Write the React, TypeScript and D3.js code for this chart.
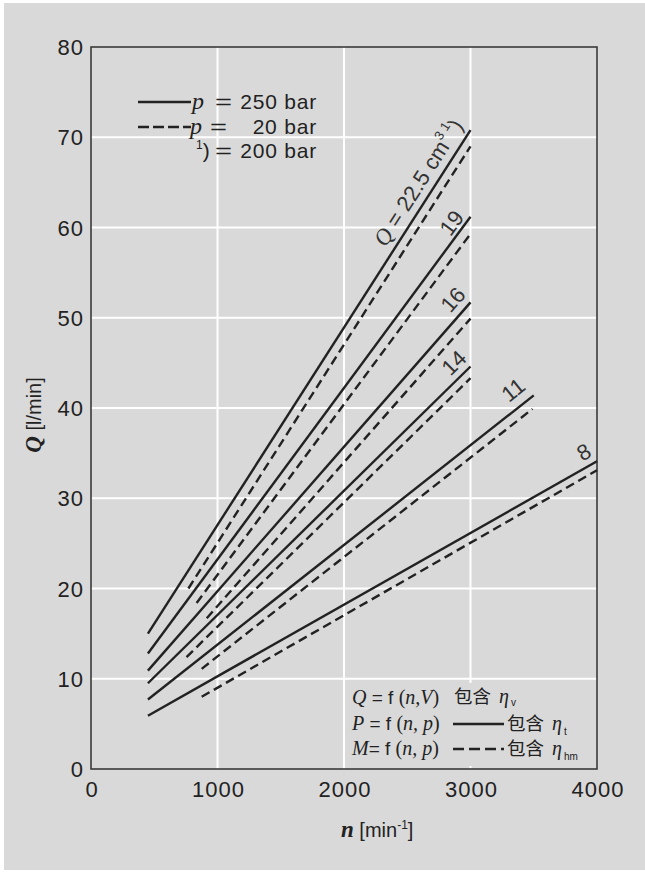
import React from "react";
import * as d3 from "d3";

// ---- data ----
const sizes = ["22.5", "19", "16", "14", "11", "8"];
const solidStartN = [450, 450, 450, 450, 450, 450];
const solidStartQ = [15.0, 12.8, 10.9, 9.5, 7.7, 5.9];
const solidEndN = [3000, 3000, 3000, 3000, 3500, 4000];
const solidEndQ = [70.8, 61.2, 51.7, 44.6, 41.4, 34.1];
const dashStartN = [770, 835, 915, 755, 875, 875];
const dashStartQ = [20.0, 18.4, 16.7, 12.4, 11.1, 8.0];
const dashEndN = [3000, 3000, 3000, 3000, 3490, 4000];
const dashEndQ = [69.0, 59.3, 49.9, 43.3, 39.9, 33.1];
const labelN = [2585, 2851, 2862, 2870, 3338, 3897];
const labelQ = [65.0, 60.5, 52.0, 45.0, 42.0, 35.1];

const xTicks = [0, 1000, 2000, 3000, 4000];
const yTicks = [0, 10, 20, 30, 40, 50, 60, 70, 80];
const xGrid = [1000, 2000, 3000];
const yGrid = [10, 20, 30, 40, 50, 60, 70];

const SANS = "'Liberation Sans', Arial, Helvetica, sans-serif";
const SERIF = "'Liberation Serif', 'DejaVu Serif', serif";
const CJK = "'Noto Sans CJK SC', sans-serif";
const INK = "#222";
const BG = "#d9d9d9";

export default function App() {
  const x = d3.scaleLinear().domain([0, 4000]).range([91, 597]);
  const y = d3.scaleLinear().domain([0, 80]).range([769, 47]);
  const line = d3
    .line<[number, number]>()
    .x((d) => x(d[0]))
    .y((d) => y(d[1]));

  const solid = sizes.map((_, i) => [
    [solidStartN[i], solidStartQ[i]],
    [solidEndN[i], solidEndQ[i]],
  ] as [number, number][]);
  const dashed = sizes.map((_, i) => [
    [dashStartN[i], dashStartQ[i]],
    [dashEndN[i], dashEndQ[i]],
  ] as [number, number][]);

  const angle = (i: number) => {
    const dx = x(solidEndN[i]) - x(solidStartN[i]);
    const dy = y(solidEndQ[i]) - y(solidStartQ[i]);
    return (Math.atan2(dy, dx) * 180) / Math.PI;
  };

  const etaRows: [number, number, number, number, string][] = [
    [454, 499, 703, 3, "v"],
    [507, 552, 730, 5, "t"],
    [507, 552, 755, 5, "hm"],
  ];

  return (
    <svg
      width={645}
      height={872}
      style={{ position: "absolute", left: 0, top: 0 }}
      xmlns="http://www.w3.org/2000/svg"
    >
      <rect x={0} y={0} width={645} height={872} fill="#fff" />
      <rect x={4} y={3} width={641} height={867} fill={BG} />

      {/* grid */}
      {xGrid.map((v) => (
        <line key={"gx" + v} x1={x(v)} x2={x(v)} y1={y(80)} y2={y(0)} stroke="#fff" strokeWidth={2} />
      ))}
      {yGrid.map((v) => (
        <line key={"gy" + v} x1={x(0)} x2={x(4000)} y1={y(v)} y2={y(v)} stroke="#fff" strokeWidth={2} />
      ))}

      {/* lower-right legend backdrop */}
      <rect x={347} y={683} width={249} height={83} fill={BG} />

      {/* frame */}
      <rect x={x(0)} y={y(80)} width={x(4000) - x(0)} height={y(0) - y(80)} fill="none" stroke="#3a3a3a" strokeWidth={1.6} />

      {/* curves */}
      {solid.map((d, i) => (
        <path key={"s" + i} d={line(d) || ""} fill="none" stroke={INK} strokeWidth={2.4} />
      ))}
      {dashed.map((d, i) => (
        <path key={"d" + i} d={line(d) || ""} fill="none" stroke={INK} strokeWidth={2.4} strokeDasharray="9,5" />
      ))}

      {/* curve labels */}
      {sizes.map((s, i) => (
        <text
          key={"l" + i}
          transform={`translate(${x(labelN[i])},${y(labelQ[i])}) rotate(${angle(i)})`}
          textAnchor="middle"
          dominantBaseline="central"
          fontFamily={SANS}
          fontSize={22}
          fill="#333"
        >
          {i === 0 ? (
            <>
              <tspan fontFamily={SERIF} fontStyle="italic" fontSize={23}>Q</tspan>
              <tspan> = {s} cm</tspan>
              <tspan fontSize={13} dy={-8}>3</tspan>
              <tspan fontSize={13}> 1</tspan>
              <tspan dy={8}>)</tspan>
            </>
          ) : (
            s
          )}
        </text>
      ))}

      {/* axis tick labels */}
      {yTicks.map((v) => (
        <text key={"yt" + v} x={84} y={y(v) + 8} textAnchor="end" fontFamily={SANS} fontSize={22} letterSpacing={1} fill={INK}>
          {v}
        </text>
      ))}
      {xTicks.map((v) => (
        <text key={"xt" + v} x={x(v) + 1} y={797} textAnchor="middle" fontFamily={SANS} fontSize={22} letterSpacing={1} fill={INK}>
          {v}
        </text>
      ))}

      {/* axis titles */}
      <text transform="translate(41,415) rotate(-90)" textAnchor="middle" fontFamily={SANS} fontSize={20} fill={INK}>
        <tspan fontFamily={SERIF} fontStyle="italic" fontWeight="bold" fontSize={23}>Q</tspan>
        <tspan> [l/min]</tspan>
      </text>
      <text x={341} y={837} fontFamily={SANS} fontSize={20} fill={INK}>
        <tspan fontFamily={SERIF} fontStyle="italic" fontWeight="bold" fontSize={23}>n</tspan>
        <tspan> [min</tspan>
        <tspan fontSize={12} dy={-8}>-1</tspan>
        <tspan dy={8}>]</tspan>
      </text>

      {/* top-left legend */}
      <line x1={138} x2={191} y1={102} y2={102} stroke={INK} strokeWidth={2.4} />
      <text x={192} y={109} fontFamily={SERIF} fontStyle="italic" fontSize={24} fill={INK}>p</text>
      <text x={215} y={109} fontFamily={SANS} fontSize={21} fill={INK} textLength={17} lengthAdjust="spacingAndGlyphs">=</text>
      <text x={317} y={109} textAnchor="end" fontFamily={SANS} fontSize={21} letterSpacing={0.8} fill={INK}>250 bar</text>

      <line x1={138} x2={191} y1={127} y2={127} stroke={INK} strokeWidth={2.4} strokeDasharray="11,4" />
      <text x={190} y={134} fontFamily={SERIF} fontStyle="italic" fontSize={24} fill={INK}>p</text>
      <text x={210} y={134} fontFamily={SANS} fontSize={21} fill={INK} textLength={17} lengthAdjust="spacingAndGlyphs">=</text>
      <text x={317} y={134} textAnchor="end" fontFamily={SANS} fontSize={21} letterSpacing={0.8} fill={INK}>20 bar</text>

      <text x={196} y={158} fontFamily={SANS} fontSize={21} fill={INK}>
        <tspan fontSize={12} dy={-9}>1</tspan>
        <tspan dy={9}>)</tspan>
      </text>
      <text x={215} y={158} fontFamily={SANS} fontSize={21} fill={INK} textLength={17} lengthAdjust="spacingAndGlyphs">=</text>
      <text x={317} y={158} textAnchor="end" fontFamily={SANS} fontSize={21} letterSpacing={0.8} fill={INK}>200 bar</text>

      {/* lower-right legend */}
      <text x={352} y={704} fontFamily={SANS} fontSize={19} fill={INK}>
        <tspan fontFamily={SERIF} fontStyle="italic" fontSize={20}>Q</tspan>
        <tspan> = f </tspan>
        <tspan fontFamily={SERIF} fontSize={20}>(</tspan>
        <tspan fontFamily={SERIF} fontStyle="italic" fontSize={20}>n,V</tspan>
        <tspan fontFamily={SERIF} fontSize={20}>)</tspan>
      </text>
      <text x={352} y={730} fontFamily={SANS} fontSize={19} fill={INK}>
        <tspan fontFamily={SERIF} fontStyle="italic" fontSize={20}>P</tspan>
        <tspan> = f </tspan>
        <tspan fontFamily={SERIF} fontSize={20}>(</tspan>
        <tspan fontFamily={SERIF} fontStyle="italic" fontSize={20}>n, p</tspan>
        <tspan fontFamily={SERIF} fontSize={20}>)</tspan>
      </text>
      <text x={352} y={755} fontFamily={SANS} fontSize={19} fill={INK}>
        <tspan fontFamily={SERIF} fontStyle="italic" fontSize={20}>M</tspan>
        <tspan>= f </tspan>
        <tspan fontFamily={SERIF} fontSize={20}>(</tspan>
        <tspan fontFamily={SERIF} fontStyle="italic" fontSize={20}>n, p</tspan>
        <tspan fontFamily={SERIF} fontSize={20}>)</tspan>
      </text>
      <line x1={453} x2={504} y1={724} y2={724} stroke={INK} strokeWidth={2.4} />
      <line x1={453} x2={504} y1={749} y2={749} stroke={INK} strokeWidth={2.4} strokeDasharray="11,5" />
      <text fill={INK}>
        {etaRows.map(([cx, ex, ry, drop, sub]) => (
          <React.Fragment key={sub}>
            <tspan x={cx} y={ry} fontFamily={CJK} fontSize={18.5}>包含</tspan>
            <tspan x={ex} y={ry} fontFamily={SERIF} fontStyle="italic" fontSize={20}>η</tspan>
            <tspan dx={2} y={ry + drop} fontFamily={SANS} fontSize={10}>{sub}</tspan>
          </React.Fragment>
        ))}
      </text>
    </svg>
  );
}
